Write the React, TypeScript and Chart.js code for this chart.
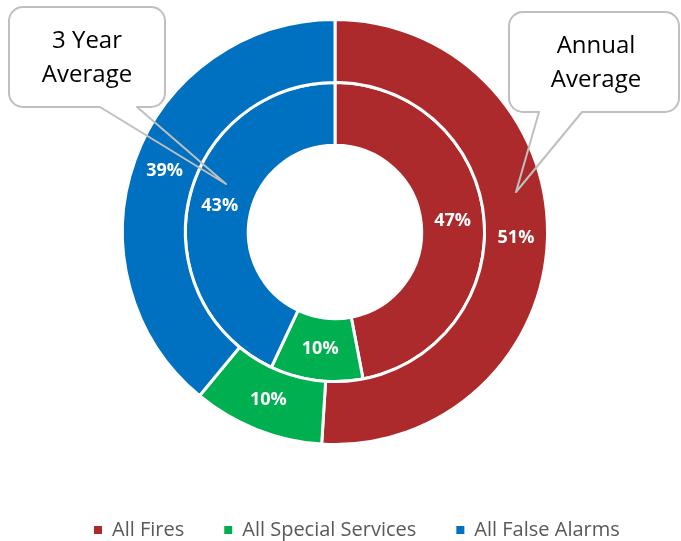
import React, { useEffect, useRef } from "react";
import { Chart, registerables } from "chart.js";

Chart.register(...registerables);

const categories = ["All Fires", "All Special Services", "All False Alarms"];
const annualAverage = [51, 10, 39];
const threeYearAverage = [47, 10, 43];
const colors = ["#AD2A2C", "#00B050", "#0070C0"];
const calloutTexts = [["3 Year", "Average"], ["Annual", "Average"]];

const FONT = '"Open Sans", "Noto Sans", sans-serif';

function roundedCallout(ctx: CanvasRenderingContext2D, x0: number, y0: number, x1: number, y1: number, r: number, b0: number, b1: number, tx: number, ty: number) {
  ctx.beginPath();
  ctx.moveTo(x0 + r, y0);
  ctx.lineTo(x1 - r, y0);
  ctx.arcTo(x1, y0, x1, y0 + r, r);
  ctx.lineTo(x1, y1 - r);
  ctx.arcTo(x1, y1, x1 - r, y1, r);
  ctx.lineTo(b1, y1);
  ctx.lineTo(tx, ty);
  ctx.lineTo(b0, y1);
  ctx.lineTo(x0 + r, y1);
  ctx.arcTo(x0, y1, x0, y1 - r, r);
  ctx.lineTo(x0, y0 + r);
  ctx.arcTo(x0, y0, x0 + r, y0, r);
  ctx.closePath();
}

const overlayPlugin = {
  id: "overlay",
  afterDatasetsDraw(chart: any) {
    const ctx: CanvasRenderingContext2D = chart.ctx;
    ctx.save();
    // data labels
    ctx.fillStyle = "#FFFFFF";
    ctx.font = `bold 18px ${FONT}`;
    ctx.textAlign = "center";
    ctx.textBaseline = "middle";
    chart.data.datasets.forEach((ds: any, di: number) => {
      const meta = chart.getDatasetMeta(di);
      meta.data.forEach((arc: any, i: number) => {
        const p = arc.tooltipPosition(false);
        ctx.fillText(`${ds.data[i]}%`, p.x, p.y);
      });
    });

    // callouts
    const boxes = [
      { x0: 9, y0: 7, x1: 165, y1: 107, b0: 100, b1: 137, tx: 226, ty: 184, cx: 87, l1: 48, l2: 82 },
      { x0: 509, y0: 12, x1: 679, y1: 112, b0: 539, b1: 582, tx: 516, ty: 192, cx: 596, l1: 53, l2: 87 },
    ];
    boxes.forEach((b, k) => {
      ctx.save();
      ctx.fillStyle = "#FFFFFF";
      ctx.beginPath();
      (ctx as any).roundRect(b.x0, b.y0, b.x1 - b.x0, b.y1 - b.y0, 14);
      ctx.fill();
      roundedCallout(ctx, b.x0, b.y0, b.x1, b.y1, 14, b.b0, b.b1, b.tx, b.ty);
      ctx.strokeStyle = "#BFBFBF";
      ctx.lineWidth = 2;
      ctx.lineJoin = "round";
      ctx.stroke();
      ctx.fillStyle = "#000000";
      ctx.font = `24px ${FONT}`;
      ctx.textAlign = "center";
      ctx.textBaseline = "alphabetic";
      ctx.fillText(calloutTexts[k][0], b.cx, b.l1);
      ctx.fillText(calloutTexts[k][1], b.cx, b.l2);
      ctx.restore();
    });

    // legend
    ctx.font = `20px ${FONT}`;
    ctx.textAlign = "left";
    ctx.textBaseline = "middle";
    const box = 8;
    const gap = 10;
    const itemGap = 40;
    const widths = categories.map((c) => ctx.measureText(c).width);
    let x = 94;
    const y = 530;
    categories.forEach((c, i) => {
      ctx.fillStyle = colors[i];
      ctx.fillRect(x, y - box / 2, box, box);
      ctx.fillStyle = "#595959";
      ctx.fillText(c, x + box + gap, y);
      x += box + gap + widths[i] + itemGap;
    });
    ctx.restore();
  },
};

export default function App() {
  const canvasRef = useRef<HTMLCanvasElement | null>(null);
  useEffect(() => {
    if (!canvasRef.current) return;
    const chart = new Chart(canvasRef.current, {
      type: "doughnut",
      data: {
        labels: categories,
        datasets: [
          { label: "Annual Average", data: annualAverage, backgroundColor: colors, borderColor: "#FFFFFF", borderWidth: 3 },
          { label: "3 Year Average", data: threeYearAverage, backgroundColor: colors, borderColor: "#FFFFFF", borderWidth: 3 },
        ],
      },
      options: {
        animation: false,
        responsive: false,
        maintainAspectRatio: false,
        cutout: "40.8%",
        layout: { padding: { top: 18, bottom: 95, left: 0, right: 11 } },
        plugins: { legend: { display: false }, tooltip: { enabled: false } },
      },
      plugins: [overlayPlugin],
    });
    return () => chart.destroy();
  }, []);
  return (
    <div style={{ position: "fixed", left: 0, top: 0, width: 681, height: 541, background: "#FFFFFF" }}>
      <canvas ref={canvasRef} width={681} height={541} style={{ width: 681, height: 541, display: "block" }} />
    </div>
  );
}
